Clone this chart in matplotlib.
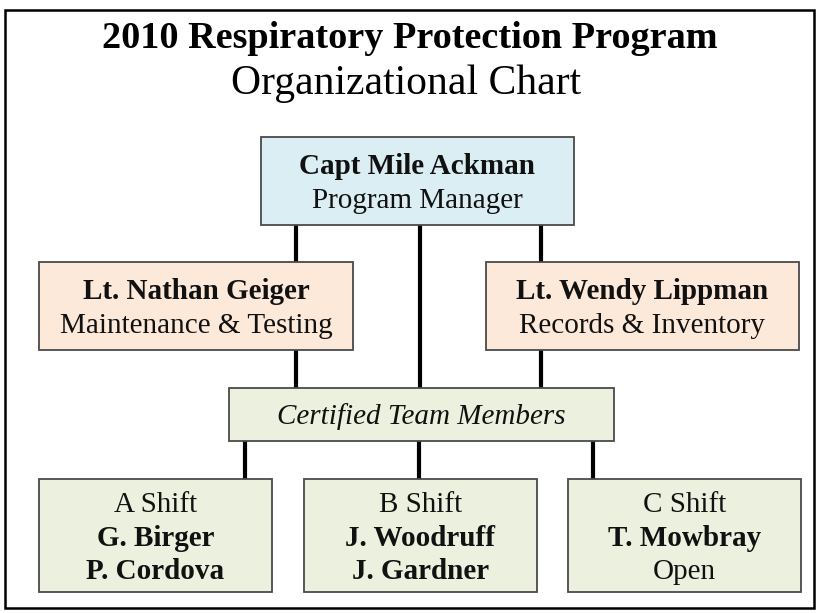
import matplotlib.pyplot as plt
from matplotlib.patches import Rectangle

# ---- chart text
title = '2010 Respiratory Protection Program'
subtitle = 'Organizational Chart'

manager = [('Capt Mile Ackman', 'bold'), ('Program Manager', 'normal')]
maint = [('Lt. Nathan Geiger', 'bold'), ('Maintenance & Testing', 'normal')]
records = [('Lt. Wendy Lippman', 'bold'), ('Records & Inventory', 'normal')]
team = [('Certified Team Members', 'italic')]
shift_a = [('A Shift', 'normal'), ('G. Birger', 'bold'), ('P. Cordova', 'bold')]
shift_b = [('B Shift', 'normal'), ('J. Woodruff', 'bold'), ('J. Gardner', 'bold')]
shift_c = [('C Shift', 'normal'), ('T. Mowbray', 'bold'), ('Open', 'normal')]

# ---- layout (pixels, y down)
W, H = 817, 613
blue = '#dbeef4'
peach = '#fde9d9'
green = '#ebf1de'
edge = '#4a4a4a'

boxes = [
    # x, y, w, h, colour, lines
    (261, 137, 313, 88, blue, manager),
    (39, 262, 314, 88, peach, maint),
    (486, 262, 313, 88, peach, records),
    (229, 388, 385, 53, green, team),
    (39, 479, 233, 113, green, shift_a),
    (304, 479, 233, 113, green, shift_b),
    (568, 479, 233, 113, green, shift_c),
]

# connectors: x, y top, y bottom
links = [
    (296, 225, 262), (541, 225, 262),
    (420, 225, 388),
    (296, 350, 388), (541, 350, 388),
    (245, 441, 479), (419, 441, 479), (593, 441, 479),
]

FONT = ['Liberation Serif', 'DejaVu Serif']
box_size = 21
line_gap = 33.5

fig = plt.figure(figsize=(W / 100, H / 100), dpi=100)
ax = fig.add_axes([0, 0, 1, 1])
ax.set_xlim(0, W)
ax.set_ylim(H, 0)
ax.axis('off')

# outer frame
ax.add_patch(Rectangle((5, 10), 809, 598, fill=False, ec='black', lw=1.8))

ax.text(W / 2 + 1, 48, title, ha='center', va='baseline', fontsize=27.5,
        fontweight='bold', family=FONT, color='black')
ax.text(W / 2 - 2, 94, subtitle, ha='center', va='baseline', fontsize=30,
        family=FONT, color='black')

for x, y0, y1 in links:
    ax.plot([x, x], [y0, y1], color='black', lw=3, solid_capstyle='butt', zorder=1)

for x, y, w, h, fc, lines in boxes:
    ax.add_patch(Rectangle((x, y), w, h, fc=fc, ec=edge, lw=1.3, zorder=2))
    cx = x + w / 2
    cy = y + h / 2
    n = len(lines)
    for i, (txt, st) in enumerate(lines):
        yy = cy + (i - (n - 1) / 2) * line_gap + 10
        ax.text(cx, yy, txt, ha='center', va='baseline', fontsize=box_size,
                fontweight='bold' if st == 'bold' else 'normal',
                fontstyle='italic' if st == 'italic' else 'normal',
                family=FONT, color='#111111', zorder=3)

fig.savefig('out.png', dpi=100)
